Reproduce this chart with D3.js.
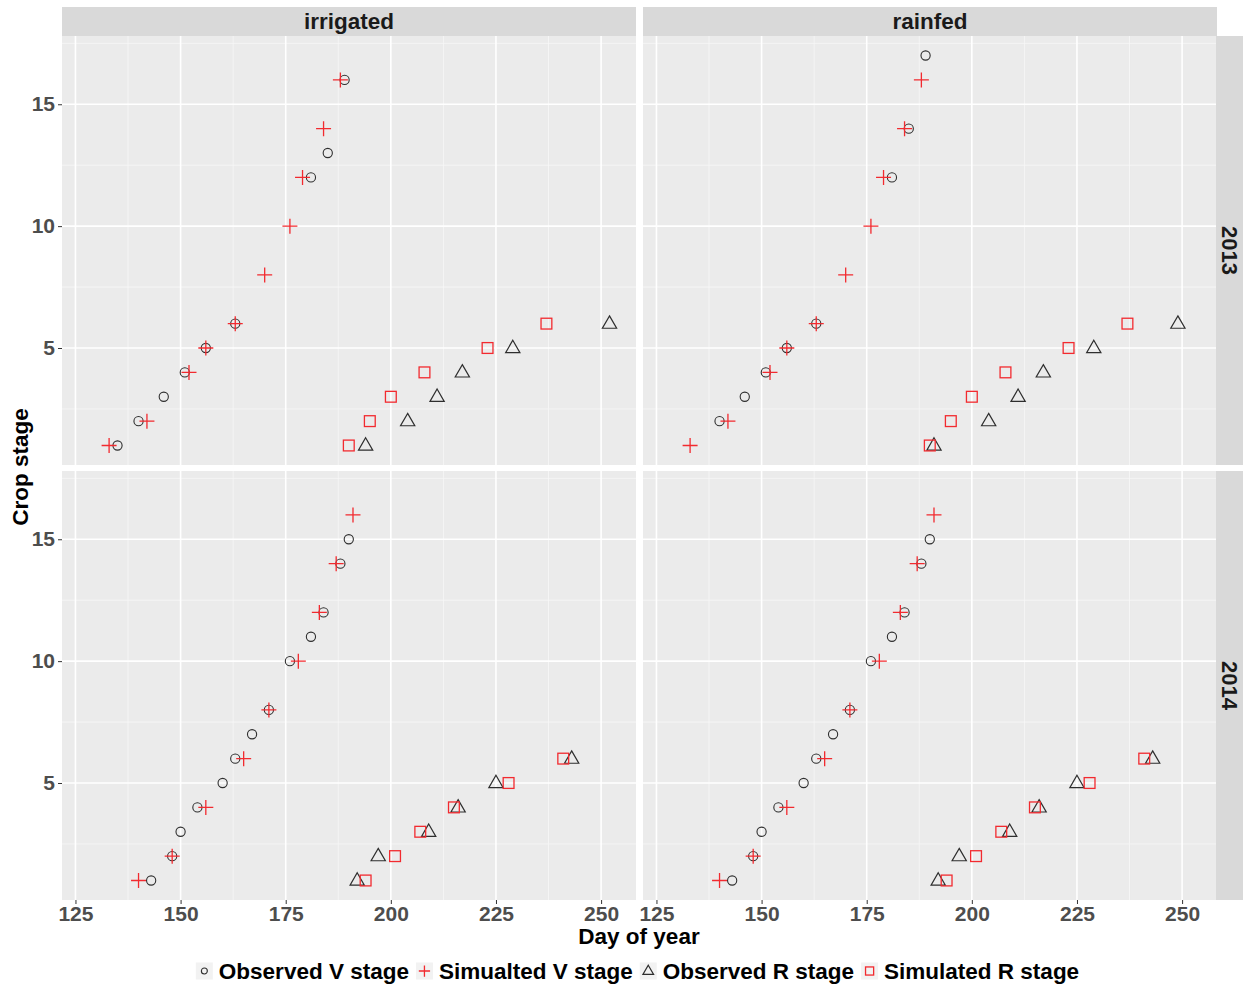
<!DOCTYPE html>
<html>
<head>
<meta charset="utf-8">
<script src="https://cdn.jsdelivr.net/npm/d3@7"></script>
<style>
  body { margin: 0; background: #fff; }
  text { font-family: "Liberation Sans", Arial, sans-serif; font-weight: bold; }
</style>
</head>
<body>
<div id="chart"></div>
<script>
// facets
var waterLevels = ["irrigated", "rainfed"];
var years = ["2013", "2014"];
var xTicks = [125, 150, 175, 200, 225, 250];
var yTicks = [5, 10, 15];
var legendLabels = ["Observed V stage", "Simualted V stage", "Observed R stage", "Simulated R stage"];

// [day of year, stage]
var irr2013ObsV = [[135,1],[140,2],[146,3],[151,4],[156,5],[163,6],[181,12],[185,13],[189,16]];
var irr2013SimV = [[133,1],[142,2],[152,4],[156,5],[163,6],[170,8],[176,10],[179,12],[184,14],[188,16]];
var irr2013ObsR = [[194,1],[204,2],[211,3],[217,4],[229,5],[252,6]];
var irr2013SimR = [[190,1],[195,2],[200,3],[208,4],[223,5],[237,6]];

var rain2013ObsV = [[140,2],[146,3],[151,4],[156,5],[163,6],[181,12],[185,14],[189,17]];
var rain2013SimV = [[133,1],[142,2],[152,4],[156,5],[163,6],[170,8],[176,10],[179,12],[184,14],[188,16]];
var rain2013ObsR = [[191,1],[204,2],[211,3],[217,4],[229,5],[249,6]];
var rain2013SimR = [[190,1],[195,2],[200,3],[208,4],[223,5],[237,6]];

var irr2014ObsV = [[143,1],[148,2],[150,3],[154,4],[160,5],[163,6],[167,7],[171,8],[176,10],[181,11],[184,12],[188,14],[190,15]];
var irr2014SimV = [[140,1],[148,2],[156,4],[165,6],[171,8],[178,10],[183,12],[187,14],[191,16]];
var irr2014ObsR = [[192,1],[197,2],[209,3],[216,4],[225,5],[243,6]];
var irr2014SimR = [[194,1],[201,2],[207,3],[215,4],[228,5],[241,6]];

var rain2014ObsV = [[143,1],[148,2],[150,3],[154,4],[160,5],[163,6],[167,7],[171,8],[176,10],[181,11],[184,12],[188,14],[190,15]];
var rain2014SimV = [[140,1],[148,2],[156,4],[165,6],[171,8],[178,10],[183,12],[187,14],[191,16]];
var rain2014ObsR = [[192,1],[197,2],[209,3],[216,4],[225,5],[243,6]];
var rain2014SimR = [[194,1],[201,2],[207,3],[215,4],[228,5],[241,6]];

var facetData = {
  "irrigated-2013": [irr2013ObsV, irr2013SimV, irr2013ObsR, irr2013SimR],
  "rainfed-2013": [rain2013ObsV, rain2013SimV, rain2013ObsR, rain2013SimR],
  "irrigated-2014": [irr2014ObsV, irr2014SimV, irr2014ObsR, irr2014SimR],
  "rainfed-2014": [rain2014ObsV, rain2014SimV, rain2014ObsR, rain2014SimR]
};

var W = 1243, H = 986;
var colX = [62, 643], panelW = 574;
var rowY = [36, 471], panelH = 429;
var black = "#2e2e2e", red = "#f22a2f";

var svg = d3.select("#chart").append("svg").attr("width", W).attr("height", H);

var x = d3.scaleLinear().domain([121.8, 258.3]).range([0, panelW]);
var y = d3.scaleLinear().domain([0.2, 17.8]).range([panelH, 0]);

// marker drawers
function drawMark(g, kind, px, py, scale) {
  var s = scale || 1;
  if (kind == 0) {
    g.append("circle").attr("cx", px).attr("cy", py).attr("r", 4.6 * s)
      .attr("fill", "none").attr("stroke", black).attr("stroke-width", 1.1);
  } else if (kind == 1) {
    var h = 7.5 * s;
    g.append("path").attr("d", "M" + (px - h) + "," + py + "H" + (px + h) + "M" + px + "," + (py - h) + "V" + (py + h))
      .attr("fill", "none").attr("stroke", red).attr("stroke-width", 1.3);
  } else if (kind == 2) {
    g.append("path").attr("transform", "translate(" + px + "," + (py + 0.5 * s) + ")")
      .attr("d", d3.symbol().type(d3.symbolTriangle).size(88 * s * s)())
      .attr("fill", "none").attr("stroke", black).attr("stroke-width", 1.2);
  } else {
    var a = 5.4 * s;
    g.append("rect").attr("x", px - a).attr("y", py - a).attr("width", 2 * a).attr("height", 2 * a)
      .attr("fill", "none").attr("stroke", red).attr("stroke-width", 1.3);
  }
}

years.forEach(function(yr, ri) {
  waterLevels.forEach(function(wl, ci) {
    var g = svg.append("g").attr("transform", "translate(" + colX[ci] + "," + rowY[ri] + ")");
    g.append("rect").attr("width", panelW).attr("height", panelH).attr("fill", "#ebebeb");

    // minor grid
    d3.range(137.5, 258, 25).forEach(function(v) {
      g.append("line").attr("x1", x(v)).attr("x2", x(v)).attr("y1", 0).attr("y2", panelH)
        .attr("stroke", "#f7f7f7").attr("stroke-width", 0.8);
    });
    [2.5, 7.5, 12.5, 17.5].forEach(function(v) {
      g.append("line").attr("y1", y(v)).attr("y2", y(v)).attr("x1", 0).attr("x2", panelW)
        .attr("stroke", "#f7f7f7").attr("stroke-width", 0.8);
    });
    // major grid
    xTicks.forEach(function(v) {
      g.append("line").attr("x1", x(v)).attr("x2", x(v)).attr("y1", 0).attr("y2", panelH)
        .attr("stroke", "#fff").attr("stroke-width", 1.6);
    });
    yTicks.forEach(function(v) {
      g.append("line").attr("y1", y(v)).attr("y2", y(v)).attr("x1", 0).attr("x2", panelW)
        .attr("stroke", "#fff").attr("stroke-width", 1.6);
    });

    var sets = facetData[wl + "-" + yr];
    sets.forEach(function(pts, k) {
      pts.forEach(function(p) { drawMark(g, k, x(p[0]), y(p[1])); });
    });

    // axes
    if (ci == 0) {
      var ya = g.append("g").call(d3.axisLeft(y).tickValues(yTicks).tickSize(4).tickPadding(3));
      ya.select(".domain").remove();
      ya.selectAll("line").attr("stroke", "#333");
      ya.selectAll("text").attr("font-size", 21).attr("fill", "#4d4d4d")
        .attr("font-family", "Liberation Sans, Arial, sans-serif").attr("font-weight", "bold");
    }
    if (ri == 1) {
      var xa = g.append("g").attr("transform", "translate(0," + panelH + ")")
        .call(d3.axisBottom(x).tickValues(xTicks).tickSize(4).tickPadding(2));
      xa.select(".domain").remove();
      xa.selectAll("line").attr("stroke", "#333");
      xa.selectAll("text").attr("font-size", 21).attr("fill", "#4d4d4d")
        .attr("font-family", "Liberation Sans, Arial, sans-serif").attr("font-weight", "bold");
    }
  });
});

// column strips
waterLevels.forEach(function(wl, ci) {
  svg.append("rect").attr("x", colX[ci]).attr("y", 7).attr("width", panelW).attr("height", 29).attr("fill", "#d9d9d9");
  svg.append("text").attr("x", colX[ci] + panelW / 2).attr("y", 29).attr("text-anchor", "middle")
    .attr("font-size", 22.5).attr("fill", "#1a1a1a").text(wl);
});
// row strips
years.forEach(function(yr, ri) {
  svg.append("rect").attr("x", 1216).attr("y", rowY[ri]).attr("width", 27).attr("height", panelH).attr("fill", "#d9d9d9");
  svg.append("text").attr("transform", "translate(1222," + (rowY[ri] + panelH / 2) + ") rotate(90)")
    .attr("text-anchor", "middle").attr("font-size", 22).attr("fill", "#1a1a1a").text(yr);
});

// axis titles
svg.append("text").attr("x", 639).attr("y", 944).attr("text-anchor", "middle")
  .attr("font-size", 22.5).attr("fill", "#000").text("Day of year");
svg.append("text").attr("transform", "translate(28,467) rotate(-90)").attr("text-anchor", "middle")
  .attr("font-size", 22.5).attr("fill", "#000").text("Crop stage");

// legend
var lg = svg.append("g");
var cursor = 0;
legendLabels.forEach(function(lab, k) {
  var item = lg.append("g").attr("transform", "translate(" + cursor + ",0)");
  item.append("rect").attr("x", 0).attr("y", -8.5).attr("width", 17).attr("height", 17).attr("fill", "#f2f2f2");
  drawMark(item, k, 8.5, 0, k == 0 ? 0.65 : 0.75);
  var t = item.append("text").attr("x", 23).attr("y", 8).attr("font-size", 22.5).attr("fill", "#000").text(lab);
  cursor += 23 + t.node().getComputedTextLength() + 7;
});
lg.attr("transform", "translate(" + (641 - cursor / 2) + ",971)");
</script>
</body>
</html>
